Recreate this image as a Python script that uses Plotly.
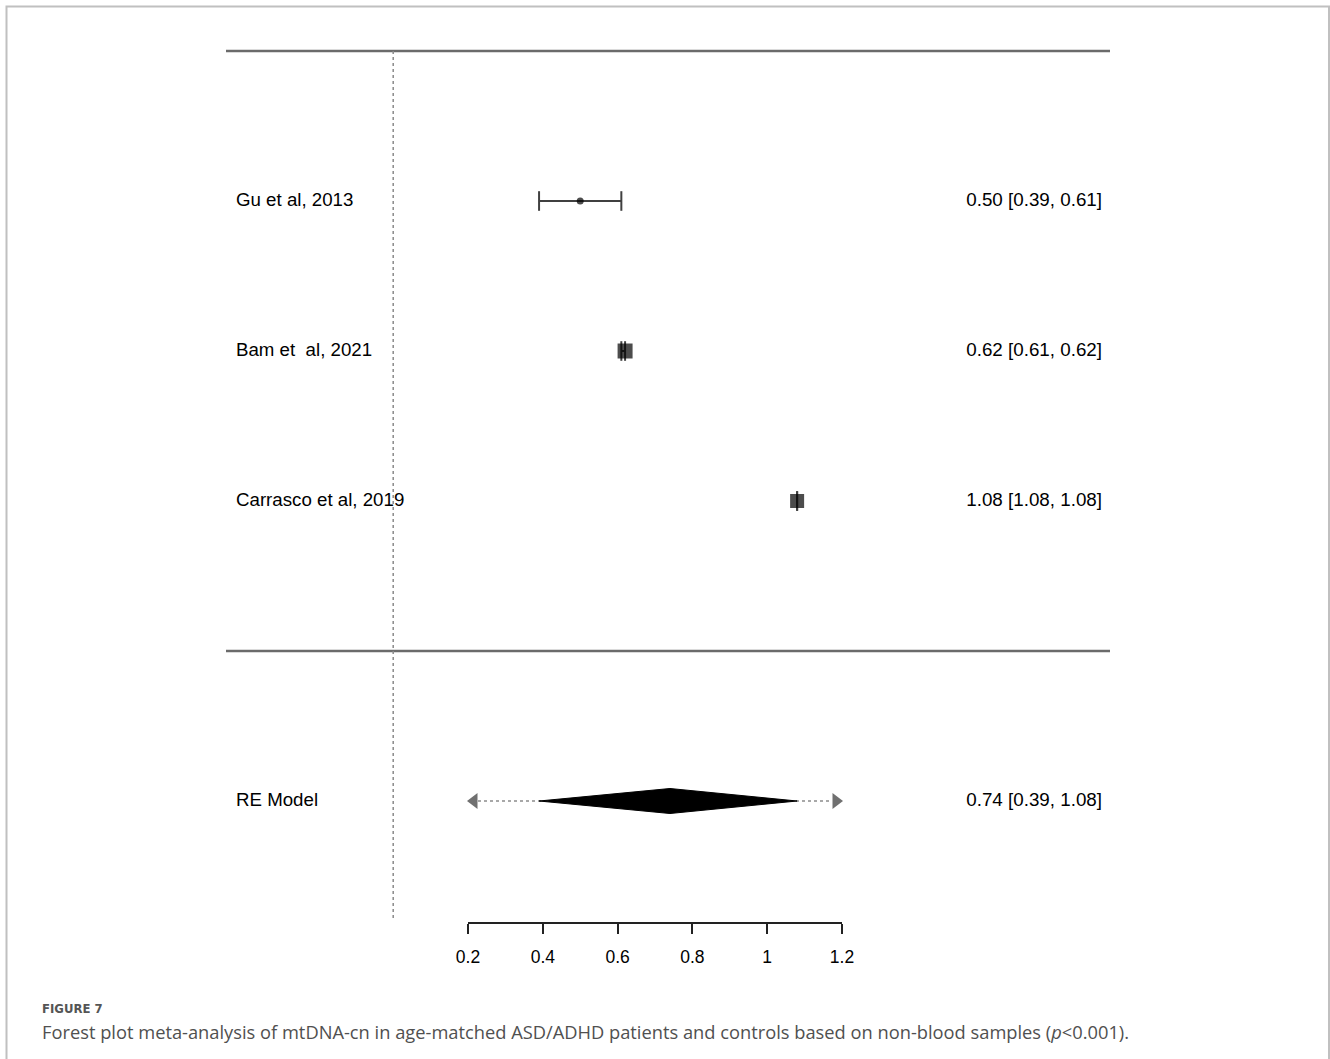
import plotly.graph_objects as go

# ---- data ----
studies = ["Gu et al, 2013", "Bam et  al, 2021", "Carrasco et al, 2019"]
estimates = [0.50, 0.62, 1.08]
ci_lower = [0.39, 0.61, 1.08]
ci_upper = [0.61, 0.62, 1.08]
rows = [3, 2, 1]
marker_sizes = [7, 15, 14]
marker_symbols = ["circle", "square", "square"]

re_label = "RE Model"
re_est = 0.74
re_lower = 0.39
re_upper = 1.08
re_row = -1
pi_lower = 0.2   # prediction interval clipped at axis limits (arrows)
pi_upper = 1.2

axis_ticks = [0.2, 0.4, 0.6, 0.8, 1.0, 1.2]
axis_ticktext = ["0.2", "0.4", "0.6", "0.8", "1", "1.2"]

# ---- layout geometry (data units) ----
X_RANGE = [0.2 - 468 / 374, 0.2 + 862 / 374]
Y_RANGE = [(651 - 1059) / 150, 651 / 150]
x_left_line = 0.2 + (226 - 468) / 374
x_right_line = 0.2 + (1110 - 468) / 374
x_left_text = 0.2 + (236 - 468) / 374
x_right_text = 0.2 + (1102 - 468) / 374

FONT = "Liberation Sans, Arial, sans-serif"

fig = go.Figure()

# horizontal separator lines
for yv in [4, 0]:
    fig.add_trace(go.Scatter(x=[x_left_line, x_right_line], y=[yv, yv], mode="lines",
                             line=dict(color="#6b6b6b", width=2.5), hoverinfo="skip",
                             showlegend=False))

# reference line at 0
fig.add_trace(go.Scatter(x=[0, 0], y=[4, (651 - 921) / 150], mode="lines",
                         line=dict(color="#8a8a8a", width=1.5, dash="dot"),
                         hoverinfo="skip", showlegend=False))

# CI segments (drawn beneath the markers)
ci_x, ci_y = [], []
for l, u, r in zip(ci_lower, ci_upper, rows):
    ci_x += [l, u, None]
    ci_y += [r, r, None]
fig.add_trace(go.Scatter(x=ci_x, y=ci_y, mode="lines",
                         line=dict(color="#404040", width=2),
                         showlegend=False, hoverinfo="skip"))
# CI end caps
fig.add_trace(go.Scatter(x=ci_lower + ci_upper, y=rows + rows, mode="markers",
                         marker=dict(symbol="line-ns", size=14,
                                     line=dict(color="#404040", width=2)),
                         showlegend=False, hoverinfo="skip"))
# point estimates
fig.add_trace(go.Scatter(
    x=estimates, y=rows, mode="markers",
    marker=dict(symbol=marker_symbols, size=marker_sizes, color="black", line=dict(width=0)),
    showlegend=False, hoverinfo="skip"))

# prediction interval (dotted) with arrows
fig.add_trace(go.Scatter(x=[pi_lower + 10 / 374, pi_upper - 10 / 374], y=[re_row, re_row],
                         mode="lines", line=dict(color="#a8a8a8", width=2, dash="dot"),
                         showlegend=False, hoverinfo="skip"))
fig.add_trace(go.Scatter(x=[pi_lower + 6 / 374, pi_upper - 6 / 374], y=[re_row, re_row],
                         mode="markers",
                         marker=dict(symbol=["triangle-left", "triangle-right"], size=14,
                                     color="#707070", line=dict(width=0)),
                         showlegend=False, hoverinfo="skip"))

# RE diamond
h = 12.5 / 150
fig.add_trace(go.Scatter(x=[re_lower, re_est, re_upper, re_est, re_lower],
                         y=[re_row, re_row + h, re_row, re_row - h, re_row],
                         mode="lines", fill="toself", fillcolor="black",
                         line=dict(color="black", width=1),
                         showlegend=False, hoverinfo="skip"))

# left labels
fig.add_trace(go.Scatter(x=[x_left_text] * 4, y=rows + [re_row], mode="text",
                         text=studies + [re_label], textposition="middle right",
                         textfont=dict(family=FONT, size=18.7, color="black"),
                         showlegend=False, hoverinfo="skip"))
# right labels
right_text = [f"{e:.2f} [{l:.2f}, {u:.2f}]" for e, l, u in zip(estimates, ci_lower, ci_upper)]
right_text.append(f"{re_est:.2f} [{re_lower:.2f}, {re_upper:.2f}]")
fig.add_trace(go.Scatter(x=[x_right_text] * 4, y=rows + [re_row], mode="text",
                         text=right_text, textposition="middle left",
                         textfont=dict(family=FONT, size=18.8, color="black"),
                         showlegend=False, hoverinfo="skip"))

# invisible trace on x2 to show bottom axis
fig.add_trace(go.Scatter(x=[0.2, 1.2], y=[0, 0], xaxis="x2", mode="markers",
                         marker=dict(opacity=0), showlegend=False, hoverinfo="skip"))

W, H = 1330, 1059
fig.update_layout(
    width=W, height=H,
    margin=dict(l=0, r=0, t=0, b=0, pad=0, autoexpand=False),
    paper_bgcolor="white", plot_bgcolor="rgba(0,0,0,0)",
    xaxis=dict(range=X_RANGE, visible=False, domain=[0, 1], automargin=False),
    yaxis=dict(range=Y_RANGE, visible=False, domain=[0, 1], automargin=False),
    xaxis2=dict(range=[0.2, 1.2], domain=[468 / W, 842 / W], anchor="free",
                position=1 - 923 / H, showline=True, linecolor="#222", linewidth=2,
                ticks="outside", ticklen=10, tickwidth=2, tickcolor="#222",
                ticklabelstandoff=8, automargin=False,
                tickvals=axis_ticks, ticktext=axis_ticktext, showgrid=False, zeroline=False,
                tickfont=dict(family=FONT, size=17.5, color="black")),
    shapes=[dict(type="rect", xref="paper", yref="paper",
                 x0=6.5 / W, x1=1329 / W, y0=-0.05, y1=1 - 6.5 / H,
                 line=dict(color="#c0c0c0", width=2), fillcolor="rgba(0,0,0,0)")],
    annotations=[
        dict(text="FIGURE 7", xref="paper", yref="paper", x=40 / W, y=1 - 1008 / H,
             xanchor="left", yanchor="middle", showarrow=False,
             font=dict(family="Liberation Sans Narrow, DejaVu Sans Condensed, Roboto, sans-serif",
                       size=13, color="#555555", weight=600)),
        dict(text="Forest plot meta-analysis of mtDNA-cn in age-matched ASD/ADHD patients and controls based on non-blood samples (<i>p</i><0.001).",
             xref="paper", yref="paper", x=40 / W, y=1 - 1031 / H,
             xanchor="left", yanchor="middle", showarrow=False,
             font=dict(family="Open Sans, Noto Sans, sans-serif", size=18.3, color="#505050")),
    ],
)

fig.write_html("out.html")
